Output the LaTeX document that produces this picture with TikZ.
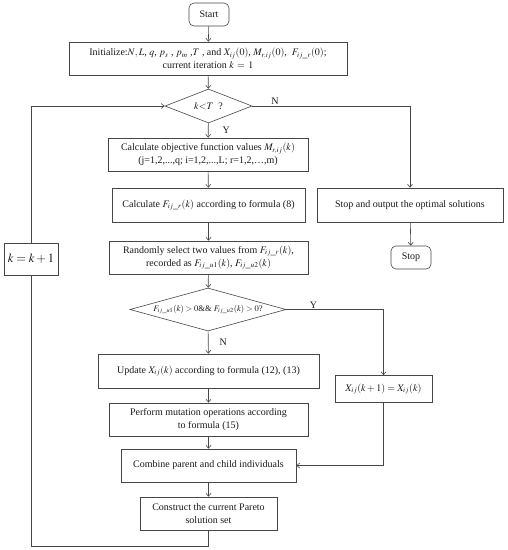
\documentclass[tikz,border=0pt]{standalone}
\usepackage{mathptmx}
\usepackage{fontspec}
\setmainfont{Liberation Serif}
\usetikzlibrary{shapes.geometric,arrows.meta}
\definecolor{linec}{RGB}{70,70,70}
\definecolor{textc}{RGB}{25,25,25}
\tikzset{
  box/.style={draw=linec,line width=0.6pt,inner sep=0pt,align=center,text=textc,font=\fontsize{10}{13}\selectfont},
  term/.style={box,rounded corners=5pt},
  dia/.style={draw=linec,line width=0.6pt,diamond,inner sep=0pt},
  txt/.style={inner sep=0pt,text=textc,font=\fontsize{10}{13}\selectfont},
  conn/.style={draw=linec,line width=0.6pt},
  arr/.style={conn,-{Straight Barb[length=3pt,width=5pt]}},
}
\begin{document}
\begin{tikzpicture}[x=1pt,y=-1pt]
\useasboundingbox (0,0) rectangle (508,550);
\node[term,minimum width=40pt,minimum height=23pt] (start) at (209,14.5) {Start};
\node[box,minimum width=278pt,minimum height=33pt] (init) at (208,58.5)
  {Initialize:$N,L$, $q$, $p_s$ , $p_m$ ,$T$ , and $X_{ij}(0)$, $M_{r,ij}(0)$,\ \ $F_{ij\_r}(0)$;\\current iteration $k\,=\,1$};
\node[dia,minimum width=87pt,minimum height=34pt] (d1) at (208.5,106) {};
\node[txt] (d1t) at (d1.center) {$k{<}T$\ \ ?};
\node[box,minimum width=200pt,minimum height=33pt] (objv) at (208,154.5)
  {Calculate objective function values $M_{r,ij}(k)$\\(j=1,2,...,q; i=1,2,...,L; r=1,2,…,m)};
\node[box,minimum width=193pt,minimum height=34pt] (calcF) at (208.5,205)
  {Calculate $F_{ij\_r}(k)$ according to formula (8)};
\node[box,minimum width=199pt,minimum height=33pt] (rand) at (208.5,257.5)
  {Randomly select two values from $F_{ij\_r}(k)$,\\recorded as $F_{ij\_u1}(k)$, $F_{ij\_u2}(k)$};
\node[dia,minimum width=156pt,minimum height=43pt] (d2) at (208,309.5) {};
\node[txt,font=\fontsize{8.5}{10}\selectfont] (d2t) at (d2.center) {$F_{ij\_u1}(k)>0$\&\& $F_{ij\_u2}(k)>0$?};
\node[box,minimum width=221pt,minimum height=34pt] (upd) at (208.5,371)
  {Update $X_{ij}(k)$ according to formula (12), (13)};
\node[box,minimum width=199pt,minimum height=33pt] (perf) at (208.5,419.5)
  {Perform mutation operations according\\to formula (15)};
\node[box,minimum width=175pt,minimum height=33pt] (comb) at (208.5,465.5)
  {Combine parent and child individuals};
\node[box,minimum width=137pt,minimum height=33pt] (cons) at (208.5,513.5)
  {Construct the current Pareto\\solution set};
\node[box,minimum width=186pt,minimum height=34pt] (stopout) at (410,205)
  {Stop and output the optimal solutions};
\node[term,minimum width=40pt,minimum height=23pt] (stop) at (411,257.5) {Stop};
\node[box,minimum width=97pt,minimum height=27pt] (xk) at (383.5,389)
  {$X_{ij}(k+1)=X_{ij}(k)$};
\node[box,minimum width=54pt,minimum height=32pt,font=\fontsize{12.5}{15}\selectfont] (kk) at (31,259)
  {$k=k+1$};
\coordinate (bl) at (208.5,546);
% connectors
\draw[arr] (start) -- (init);
\draw[arr] (init) -- (d1);
\draw[arr] (d1) -- (objv) node[txt,pos=0.45,right=14pt] (ly1) {Y};
\draw[arr] (objv) -- (calcF);
\draw[arr] (calcF) -- (rand);
\draw[arr] (rand) -- (d2);
\draw[arr] (d2) -- (upd) node[txt,pos=0.5,right=11pt] (ln2) {N};
\draw[arr] (upd) -- (perf);
\draw[arr] (perf) -- (comb);
\draw[arr] (comb) -- (cons);
\draw[conn] (cons) -- (bl) -| (kk);
\draw[arr] (kk) |- (d1.west);
\draw[arr] (d1.east) -| (stopout) node[txt,pos=0.072,above=1pt] (ln1) {N};
\draw[arr] (stopout) -- (stop);
\draw[arr] (d2.east) -| (xk) node[txt,pos=0.14,above=1pt] (ly2) {Y};
\draw[arr] (xk) |- (comb.east);
\end{tikzpicture}
\end{document}
